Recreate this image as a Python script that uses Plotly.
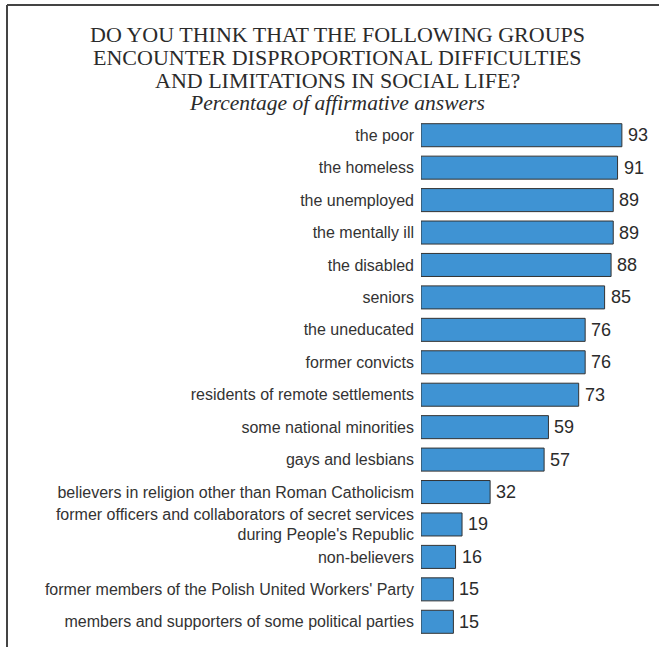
import plotly.graph_objects as go

# Survey results: share of affirmative answers (%)
groups = [
    "the poor",
    "the homeless",
    "the unemployed",
    "the mentally ill",
    "the disabled",
    "seniors",
    "the uneducated",
    "former convicts",
    "residents of remote settlements",
    "some national minorities",
    "gays and lesbians",
    "believers in religion other than Roman Catholicism",
    "former officers and collaborators of secret services<br>during People's Republic",
    "non-believers",
    "former members of the Polish United Workers' Party",
    "members and supporters of some political parties",
]
percentages = [93, 91, 89, 89, 88, 85, 76, 76, 73, 59, 57, 32, 19, 16, 15, 15]

title_lines = [
    "DO YOU THINK THAT THE FOLLOWING GROUPS",
    "ENCOUNTER DISPROPORTIONAL DIFFICULTIES",
    "AND LIMITATIONS IN SOCIAL LIFE?",
]
subtitle = "<i>Percentage of affirmative answers</i>"

W, H = 659, 647
M_L, M_R, M_T, M_B = 421, 22, 119, 9
PW = W - M_L - M_R
PH = H - M_T - M_B


def xp(px):
    return (px - M_L) / PW


def yp(py):
    return (H - M_B - py) / PH


BAR_COLOR = "#3f93d3"
TEXT_DARK = "#2b2b2b"

fig = go.Figure(
    go.Bar(
        x=percentages,
        y=groups,
        orientation="h",
        marker=dict(color=BAR_COLOR, line=dict(color="#333333", width=1)),
        hoverinfo="skip",
    )
)

# value labels next to each bar
for g, v in zip(groups, percentages):
    fig.add_annotation(
        x=v, y=g, xref="x", yref="y",
        text=str(v), showarrow=False,
        xanchor="left", yanchor="middle", xshift=4,
        font=dict(family="Liberation Sans, Arial", size=18, color=TEXT_DARK),
    )

# title block
title_y = [34, 57, 80]
for line, ty in zip(title_lines, title_y):
    fig.add_annotation(
        x=xp(337), y=yp(ty), xref="paper", yref="paper",
        text=line, showarrow=False, xanchor="center", yanchor="middle",
        font=dict(family="Liberation Serif, Times New Roman", size=22, color=TEXT_DARK),
    )
fig.add_annotation(
    x=xp(337), y=yp(103), xref="paper", yref="paper",
    text=subtitle, showarrow=False, xanchor="center", yanchor="middle",
    font=dict(family="Liberation Serif, Times New Roman", size=21.5, color=TEXT_DARK),
)

# frame: top and left rules
frame = dict(color="#444444", width=2)
fig.add_shape(type="line", xref="paper", yref="paper",
              x0=xp(7), x1=xp(W), y0=yp(5), y1=yp(5), line=frame)
fig.add_shape(type="line", xref="paper", yref="paper",
              x0=xp(7), x1=xp(7), y0=yp(5), y1=yp(H), line=frame)

fig.update_layout(
    width=W, height=H,
    margin=dict(l=M_L, r=M_R, t=M_T, b=M_B, pad=0),
    paper_bgcolor="white", plot_bgcolor="white",
    bargap=0.29,
    showlegend=False,
    xaxis=dict(range=[0, 100], visible=False, fixedrange=True),
    yaxis=dict(
        autorange="reversed",
        showgrid=False, zeroline=False, showline=False,
        ticks="", ticklabelstandoff=6,
        tickfont=dict(family="Liberation Sans, Arial", size=16, color="#333333"),
        fixedrange=True,
    ),
)

fig.write_html("out.html", config={"displayModeBar": False})
